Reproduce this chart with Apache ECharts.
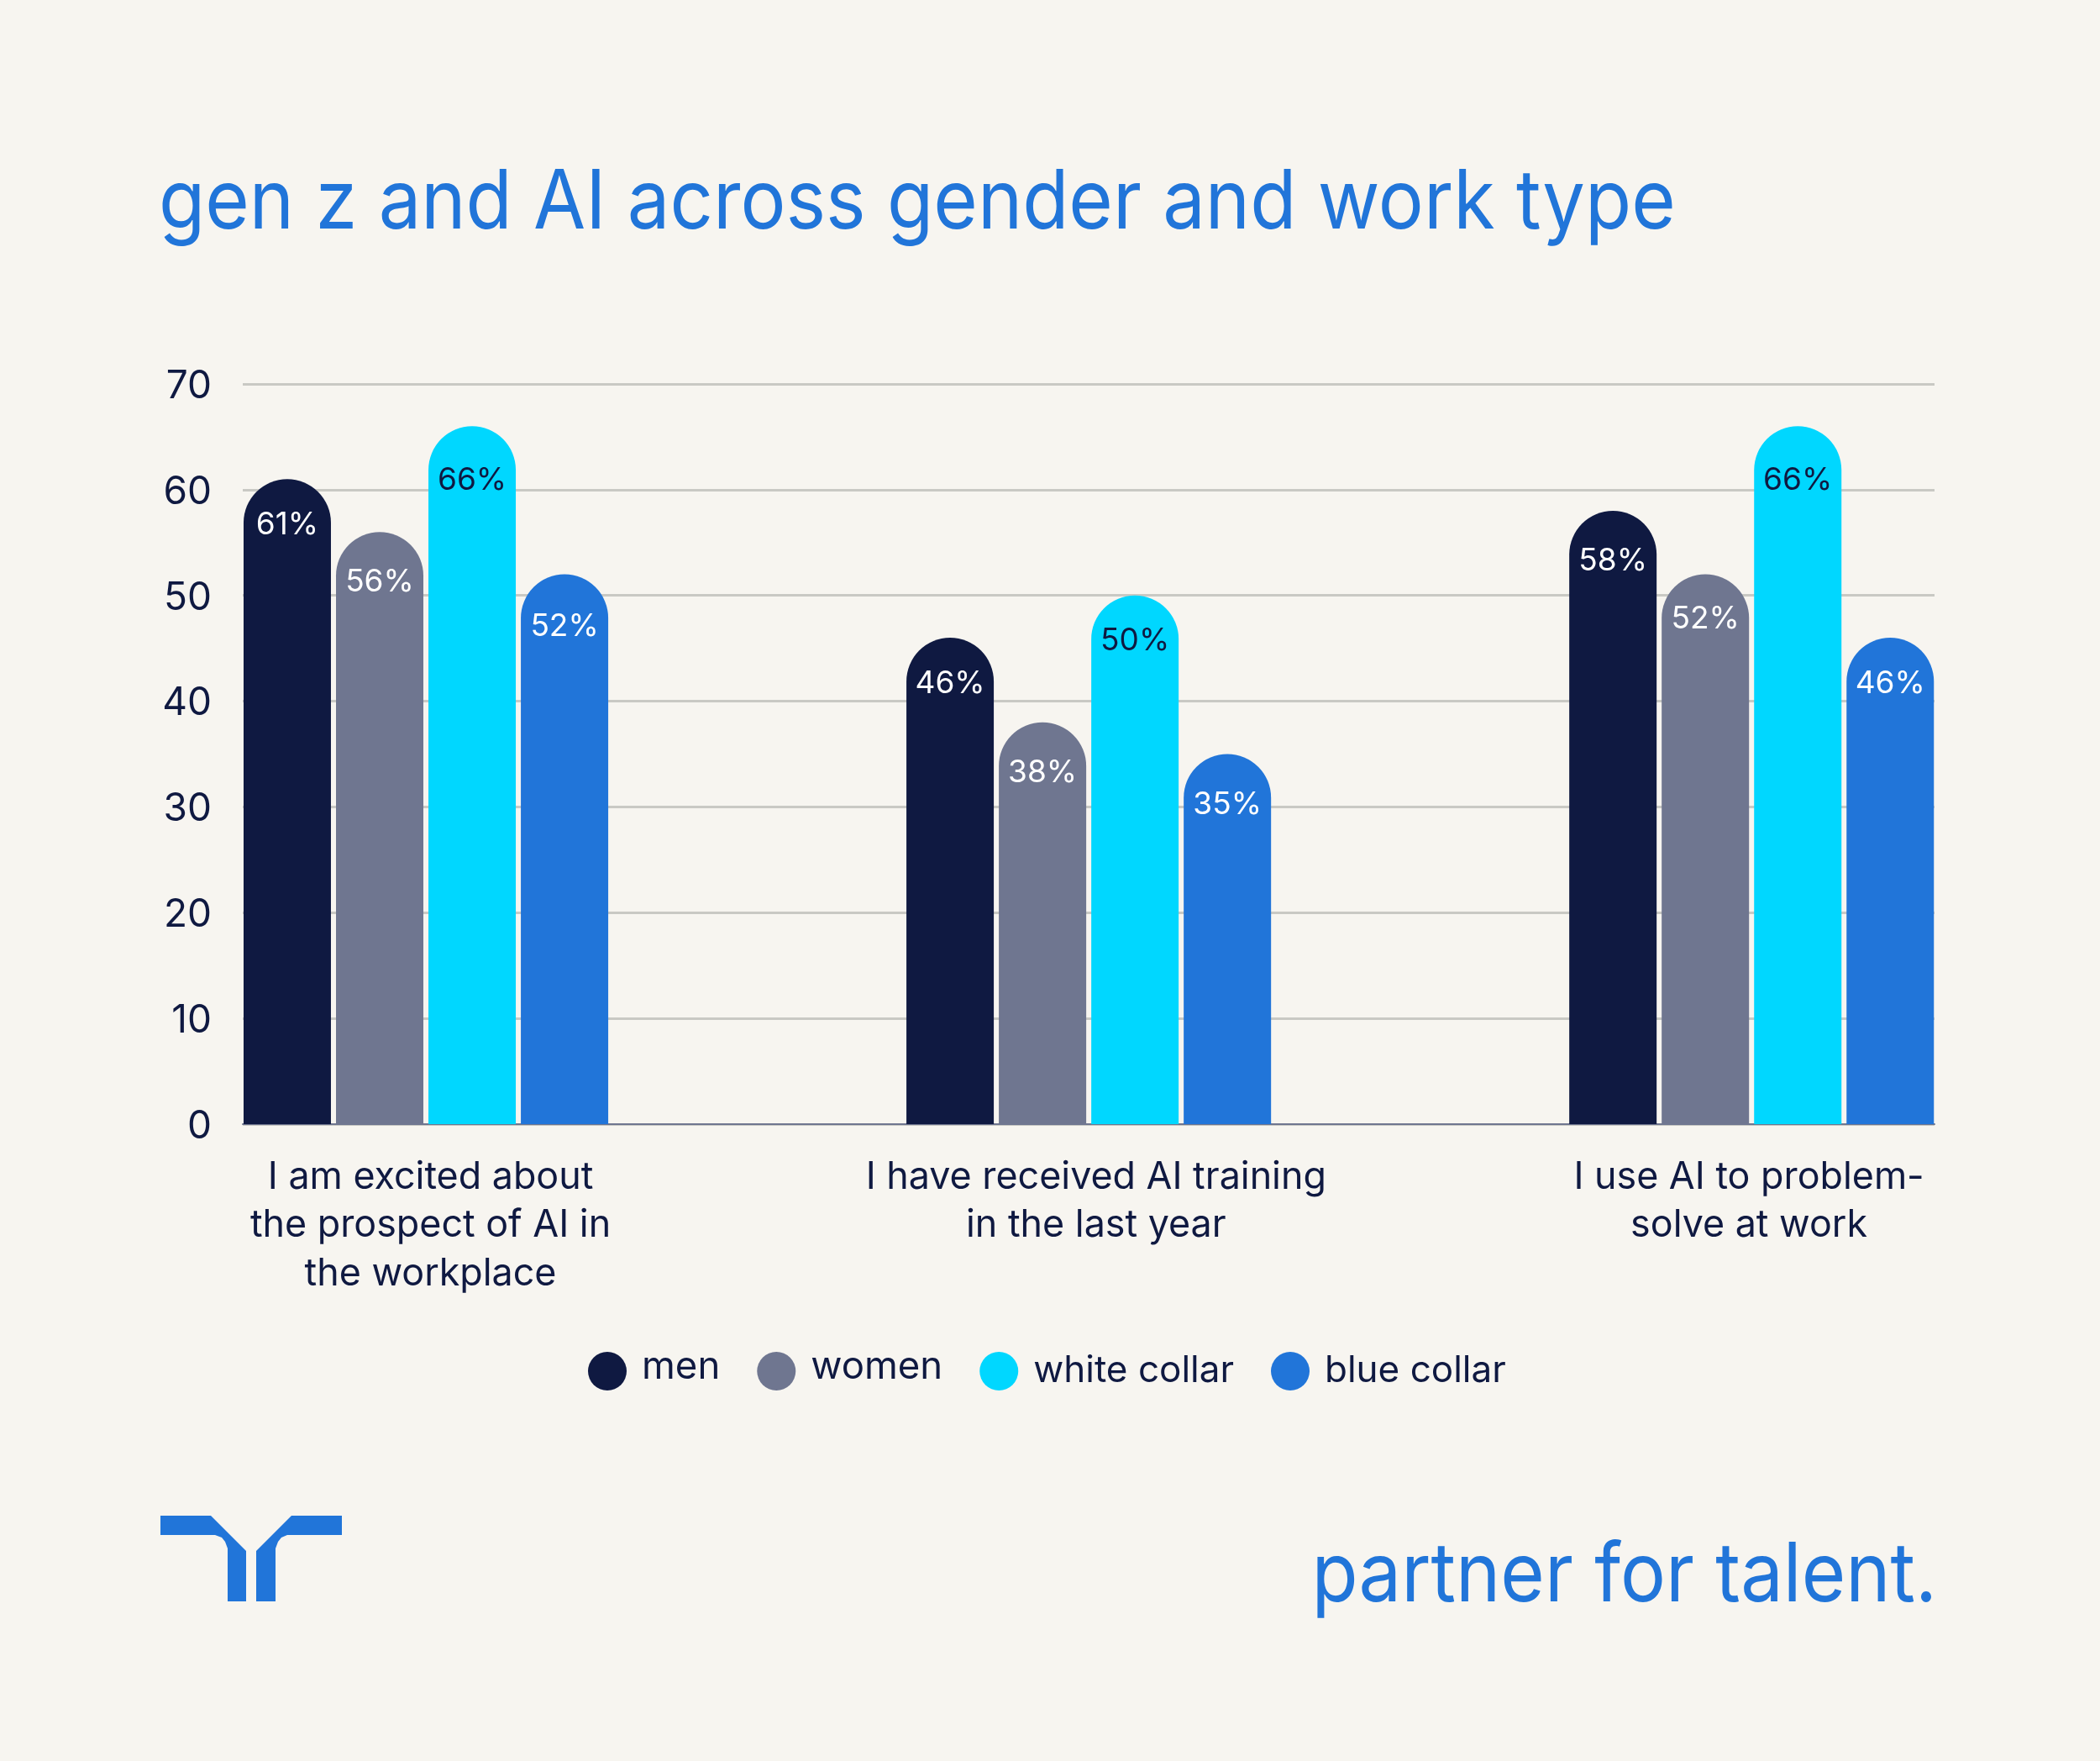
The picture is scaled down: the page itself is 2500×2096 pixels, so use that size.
<!DOCTYPE html>
<html lang="en">
<head>
    <meta charset="UTF-8">
    <title>gen z and AI across gender and work type</title>
    <script src="https://cdn.jsdelivr.net/npm/echarts@6/dist/echarts.min.js"></script>
    <style>
        html, body { margin: 0; padding: 0; background: #f7f5f0; }
        #chart { width: 2500px; height: 2096px; }
    </style>
</head>
<body>
<div id="chart"></div>
<script>
    const statements = [
        'I am excited about\nthe prospect of AI in\nthe workplace',
        'I have received AI training\nin the last year',
        'I use AI to problem-\nsolve at work'
    ];
    const men = [61, 46, 58];
    const women = [56, 38, 52];
    const whiteCollar = [66, 50, 66];
    const blueCollar = [52, 35, 46];

    const navy = '#0f1941';
    const blue = '#2175d9';
    const fontName = 'Inter';

    // labels sit a little off the group centres in the original
    const labelSpots = [1.007, 2.011, 2.996];
    // how far each percentage sits below the top of its bar
    const dropMen = [55, 55, 60];
    const dropWomen = [60, 60, 53];
    const dropWhite = [65, 54, 65];
    const dropBlue = [62, 60, 55];
    // these two legend names are set larger and a bit higher in the original
    const raisedNames = ['men', 'women'];

    function barSeries(name, values, drops, color, textColor) {
        return {
            name: name,
            type: 'bar',
            barWidth: 104,
            barGap: '5.8%',
            itemStyle: {color: color, borderRadius: [52, 52, 0, 0]},
            data: values.map((v, i) => ({
                value: [i + 1, v],
                label: {
                    show: true,
                    position: ['50%', drops[i]],
                    align: 'center',
                    verticalAlign: 'middle',
                    color: textColor,
                    fontFamily: fontName,
                    fontSize: 37,
                    formatter: v + '%'
                }
            }))
        };
    }

    const chart = echarts.init(document.getElementById('chart'));
    chart.setOption({
        backgroundColor: '#f7f5f0',
        animation: false,
        legend: {
            left: 695,
            top: 1599,
            icon: 'circle',
            itemWidth: 46,
            itemHeight: 46,
            itemGap: 44,
            formatter: name => `{${raisedNames.includes(name) ? 'raised' : 'level'}|${name}}`,
            textStyle: {
                rich: {
                    raised: {color: navy, fontFamily: fontName, fontSize: 45.5, padding: [0, 0, 10, 13]},
                    level: {color: navy, fontFamily: fontName, fontSize: 44, padding: [0, 0, 0, 13]}
                }
            },
            data: ['men', 'women', 'white collar', 'blue collar']
        },
        grid: {left: 289, right: 197, top: 457, bottom: 758},
        xAxis: {
            type: 'value',
            min: 0.7237,
            max: 3.276,
            splitLine: {show: false},
            axisTick: {show: false},
            axisLine: {show: true, onZero: false, lineStyle: {color: '#6f7690', width: 2}},
            axisLabel: {
                customValues: labelSpots,
                margin: 34.5,
                color: navy,
                fontFamily: fontName,
                fontSize: 44.8,
                lineHeight: 57.6,
                formatter: value => statements[labelSpots.indexOf(value)]
            }
        },
        yAxis: {
            type: 'value',
            min: 0,
            max: 70,
            interval: 10,
            axisLine: {show: false},
            axisTick: {show: false},
            splitLine: {lineStyle: {color: '#c9c9c4', width: 3}},
            axisLabel: {
                margin: 37,
                color: navy,
                fontFamily: fontName,
                fontSize: 46,
                verticalAlign: 'top',
                padding: [-20, 0, 0, 0]
            }
        },
        series: [
            barSeries('men', men, dropMen, navy, '#ffffff'),
            barSeries('women', women, dropWomen, '#6f7690', '#ffffff'),
            barSeries('white collar', whiteCollar, dropWhite, '#00d7ff', navy),
            barSeries('blue collar', blueCollar, dropBlue, blue, '#ffffff')
        ],
        graphic: [
            {
                type: 'text',
                x: 189,
                y: 243,
                scaleX: 0.92,
                style: {
                    text: 'gen z and AI across gender and work type',
                    verticalAlign: 'middle',
                    fill: blue,
                    fontFamily: fontName,
                    fontSize: 98
                }
            },
            {
                type: 'polygon',
                shape: {points: [[191, 1804], [251, 1804], [293, 1846], [293, 1906], [271, 1906], [271, 1843], [268, 1835], [264, 1830], [256, 1827], [191, 1827]]},
                style: {fill: blue}
            },
            {
                type: 'polygon',
                shape: {points: [[407, 1804], [347, 1804], [305, 1846], [305, 1906], [328, 1906], [328, 1843], [331, 1835], [335, 1830], [342, 1827], [407, 1827]]},
                style: {fill: blue}
            },
            {
                type: 'text',
                x: 2306,
                y: 1877,
                scaleX: 0.92,
                style: {
                    text: 'partner for talent.',
                    align: 'right',
                    verticalAlign: 'middle',
                    fill: blue,
                    fontFamily: fontName,
                    fontSize: 98
                }
            }
        ]
    });
</script>
</body>
</html>
